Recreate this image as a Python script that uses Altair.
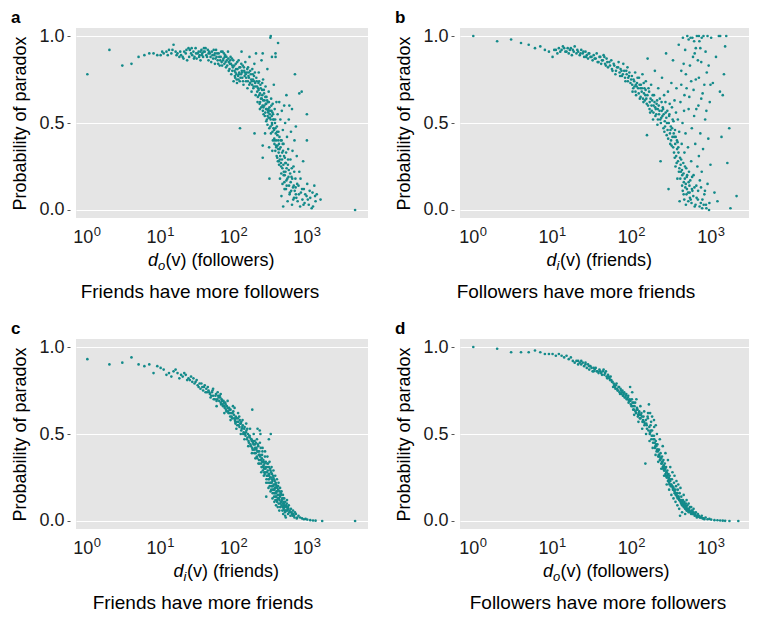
import altair as alt
import pandas as pd

# ---------------- data (degree, probability of paradox) ----------------
a_points = [
    (1, 0.78), (2, 0.92), (3, 0.83), (4, 0.84), (5, 0.88), (6, 0.89), (7, 0.90), (8, 0.90), (9, 0.89), (10, 0.89),
    (11, 0.90), (12, 0.91), (13, 0.92), (14, 0.90), (15, 0.95), (16, 0.91), (17, 0.90), (18, 0.88), (19, 0.89), (20, 0.88),
    (21, 0.91), (22, 0.90), (23, 0.86), (24, 0.93), (25, 0.92), (26, 0.90), (27, 0.89), (28, 0.91), (29, 0.88), (30, 0.93),
    (31, 0.87), (32, 0.90), (33, 0.91), (34, 0.89), (35, 0.86), (36, 0.92), (37, 0.90), (38, 0.88), (39, 0.93), (40, 0.91),
    (35, 0.91), (45, 0.90), (55, 0.90), (65, 0.86), (75, 0.88), (85, 0.85), (95, 0.80),
    (42, 0.89), (44, 0.92), (45, 0.86), (47, 0.90), (48, 0.88), (50, 0.91), (52, 0.87), (54, 0.89), (55, 0.84), (57, 0.92),
    (58, 0.88), (60, 0.86), (62, 0.90), (64, 0.83), (66, 0.88), (68, 0.85), (70, 0.91), (72, 0.87), (74, 0.84), (76, 0.89),
    (78, 0.82), (80, 0.86), (83, 0.91), (85, 0.80), (88, 0.84), (90, 0.88), (92, 0.78), (95, 0.83), (98, 0.86), (99, 0.74),
    (102, 0.80), (104, 0.76), (106, 0.84), (108, 0.78), (110, 0.73), (112, 0.81), (114, 0.77), (116, 0.86), (118, 0.79),
    (120, 0.74), (122, 0.82), (125, 0.78), (127, 0.91), (130, 0.76), (132, 0.83), (135, 0.72), (138, 0.80), (140, 0.77),
    (143, 0.85), (146, 0.74), (150, 0.79), (153, 0.70), (156, 0.82), (160, 0.76), (163, 0.88), (166, 0.73), (170, 0.78),
    (174, 0.68), (178, 0.81), (182, 0.75), (186, 0.71), (190, 0.84), (195, 0.73), (198, 0.66), (200, 0.90), (121, 0.47),
    (105, 0.79), (115, 0.75), (128, 0.80), (145, 0.78), (158, 0.77), (175, 0.74), (188, 0.77), (191, 0.44),
    (205, 0.74), (210, 0.62), (214, 0.70), (218, 0.79), (222, 0.66), (226, 0.58), (230, 0.72), (234, 0.64), (238, 0.86),
    (242, 0.69), (246, 0.60), (250, 0.75), (254, 0.55), (258, 0.67), (262, 0.63), (266, 0.44), (270, 0.71), (274, 0.58),
    (278, 0.65), (282, 0.52), (286, 0.81), (290, 0.62), (294, 0.56), (298, 0.68), (302, 0.36), (306, 0.59), (310, 0.53),
    (314, 0.99), (318, 1.00), (322, 0.64), (326, 0.57), (330, 0.50), (334, 0.34), (338, 0.61), (342, 0.55), (346, 0.47),
    (350, 0.72), (355, 0.41), (360, 0.58), (365, 0.52), (370, 0.88), (375, 0.37), (380, 0.62), (385, 0.48), (390, 0.30),
    (395, 0.55), (400, 0.96), (247, 0.37), (247, 0.30), (305, 0.18), (247, 0.90), (369, 0.90), (330, 0.88),
    (208, 0.68), (216, 0.73), (228, 0.62), (244, 0.66), (252, 0.59), (268, 0.56), (276, 0.61), (288, 0.54), (296, 0.58),
    (308, 0.55), (316, 0.48), (328, 0.54), (336, 0.45), (348, 0.52), (358, 0.40), (368, 0.47), (378, 0.36), (392, 0.43),
    (405, 0.45), (410, 0.28), (415, 0.62), (420, 0.35), (425, 0.18), (430, 0.52), (435, 0.40), (440, 0.25), (445, 0.08),
    (450, 0.57), (455, 0.33), (460, 0.15), (465, 0.46), (470, 0.02), (475, 0.38), (480, 0.22), (485, 0.60), (490, 0.12),
    (495, 0.30), (500, 0.50), (510, 0.27), (520, 0.17), (530, 0.42), (540, 0.05), (550, 0.35), (560, 0.23), (570, 0.60),
    (580, 0.10), (590, 0.29), (600, 0.45), (610, 0.19), (620, 0.03), (630, 0.34), (640, 0.13), (650, 0.25), (660, 0.07),
    (670, 0.40), (680, 0.78), (690, 0.18), (700, 0.09), (402, 0.35), (412, 0.38), (428, 0.31), (438, 0.27), (448, 0.40),
    (458, 0.24), (468, 0.34), (478, 0.20), (488, 0.16), (505, 0.22), (515, 0.33), (525, 0.14), (545, 0.26), (555, 0.19),
    (575, 0.09), (595, 0.16), (615, 0.24), (645, 0.06), (655, 0.14), (675, 0.11), (710, 0.07),
    (720, 0.31), (740, 0.05), (760, 0.14), (780, 0.22), (780, 0.67), (800, 0.02), (820, 0.10), (840, 0.68), (860, 0.06),
    (880, 0.28), (900, 0.12), (920, 0.04), (990, 0.55), (990, 0.40), (980, 0.08), (1000, 0.15), (1050, 0.03),
    (1100, 0.07), (1150, 0.01), (1180, 0.10), (1250, 0.14), (1300, 0.05), (1350, 0.09), (1520, 0.06), (4500, 0.00),
    (10.5, 0.91), (12.5, 0.89), (14.5, 0.92), (16.5, 0.89), (18.5, 0.91), (20.5, 0.87), (22.5, 0.92), (24.5, 0.88),
    (26.5, 0.93), (28.5, 0.87), (30.5, 0.90), (33.5, 0.88), (36.5, 0.89), (38.5, 0.91), (41, 0.93), (43, 0.88),
    (46, 0.91), (49, 0.85), (51, 0.89), (53, 0.92), (56, 0.87), (59, 0.90), (61, 0.84), (63, 0.88), (67, 0.91), (69, 0.83),
    (71, 0.86), (73, 0.90), (77, 0.85), (79, 0.88), (81, 0.83), (84, 0.87), (87, 0.81), (89, 0.86), (91, 0.84), (94, 0.87),
    (97, 0.82), (101, 0.83), (103, 0.77), (107, 0.81), (109, 0.75), (111, 0.85), (117, 0.78), (119, 0.82), (123, 0.76),
    (126, 0.84), (129, 0.79), (133, 0.74), (137, 0.82), (141, 0.79), (147, 0.76), (152, 0.81), (155, 0.74), (159, 0.79),
    (162, 0.72), (167, 0.80), (172, 0.75), (177, 0.72), (181, 0.78), (184, 0.70), (189, 0.74), (193, 0.79), (197, 0.71),
    (202, 0.76), (207, 0.71), (212, 0.65), (217, 0.69), (221, 0.74), (224, 0.61), (227, 0.67), (232, 0.70), (236, 0.59),
    (240, 0.64), (243, 0.73), (248, 0.57), (251, 0.63), (256, 0.69), (260, 0.60), (264, 0.54), (268, 0.65), (272, 0.61),
    (276, 0.51), (280, 0.58), (284, 0.63), (287, 0.49), (292, 0.57), (297, 0.53), (300, 0.62), (304, 0.47), (312, 0.57),
    (317, 0.52), (320, 0.44), (324, 0.60), (331, 0.49), (335, 0.56), (340, 0.40), (344, 0.52), (353, 0.46), (357, 0.38),
    (363, 0.50), (367, 0.34), (372, 0.44), (377, 0.40), (383, 0.31), (388, 0.45), (393, 0.37), (398, 0.28),
    (403, 0.40), (408, 0.33), (413, 0.26), (418, 0.42), (423, 0.29), (433, 0.36), (443, 0.21), (453, 0.29), (463, 0.38),
    (473, 0.26), (483, 0.31), (493, 0.20), (503, 0.27), (513, 0.12), (523, 0.24), (535, 0.18), (548, 0.29), (565, 0.14),
    (585, 0.21), (605, 0.11), (625, 0.18), (665, 0.22), (695, 0.13), (730, 0.15), (770, 0.09), (810, 0.18), (850, 0.12),
    (890, 0.03), (940, 0.09), (1020, 0.06), (1080, 0.11), (1200, 0.02), (1280, 0.08),
    (520, 0.66), (560, 0.52), (620, 0.58), (700, 0.48),
]

b_points = [
    (1, 1.00), (2, 0.97), (3, 0.98), (4, 0.96), (5, 0.95), (6, 0.93), (7, 0.94), (8, 0.92), (9, 0.91), (10, 0.88),
    (11, 0.92), (12, 0.93), (13, 0.92), (14, 0.93), (15, 0.91), (16, 0.90), (17, 0.93), (18, 0.92), (19, 0.94), (20, 0.90),
    (21, 0.91), (22, 0.89), (23, 0.92), (24, 0.90), (25, 0.88), (26, 0.91), (27, 0.89), (28, 0.87), (29, 0.90), (30, 0.88),
    (32, 0.86), (33, 0.89), (34, 0.87), (36, 0.90), (38, 0.85), (40, 0.88), (42, 0.86), (44, 0.89), (46, 0.84), (48, 0.87),
    (50, 0.82), (52, 0.85), (55, 0.86), (57, 0.80), (60, 0.83), (62, 0.78), (65, 0.82), (68, 0.85), (70, 0.79), (72, 0.81),
    (75, 0.77), (78, 0.84), (80, 0.80), (83, 0.74), (86, 0.78), (88, 0.82), (90, 0.76), (93, 0.79), (96, 0.73), (100, 0.77),
    (102, 0.68), (105, 0.75), (108, 0.71), (110, 0.79), (113, 0.66), (116, 0.73), (120, 0.70), (123, 0.76), (126, 0.64),
    (130, 0.72), (133, 0.68), (136, 0.78), (140, 0.62), (144, 0.70), (148, 0.66), (150, 0.74), (155, 0.43), (158, 0.87),
    (160, 0.60), (165, 0.68), (170, 0.56), (175, 0.72), (180, 0.63), (185, 0.52), (190, 0.66), (195, 0.80), (200, 0.58),
    (205, 0.61), (210, 0.49), (215, 0.70), (220, 0.55), (225, 0.64), (230, 0.28), (235, 0.53), (240, 0.76), (245, 0.59),
    (250, 0.47), (255, 0.66), (260, 0.51), (265, 0.62), (270, 0.90), (275, 0.43), (280, 0.57), (285, 0.68), (290, 0.12),
    (295, 0.54), (300, 0.61), (305, 0.38), (310, 0.48), (315, 0.73), (320, 0.59), (325, 0.42), (330, 0.86), (335, 0.51),
    (340, 0.33), (345, 0.63), (350, 0.46), (355, 0.25), (360, 0.56), (365, 0.70), (370, 0.40), (375, 0.18), (380, 0.52),
    (385, 0.36), (390, 0.95), (395, 0.45), (400, 0.05),
    (112, 0.72), (128, 0.70), (142, 0.67), (152, 0.64), (168, 0.62), (178, 0.57), (188, 0.60), (198, 0.54), (212, 0.58),
    (228, 0.52), (238, 0.57), (252, 0.55), (262, 0.48), (272, 0.53), (282, 0.46), (292, 0.50), (302, 0.44), (312, 0.40),
    (322, 0.47), (332, 0.36), (342, 0.42), (352, 0.38), (362, 0.31), (372, 0.35), (382, 0.28), (392, 0.22), (412, 0.26),
    (432, 0.20), (452, 0.16), (472, 0.13), (492, 0.19), (512, 0.10), (532, 0.14), (552, 0.06), (572, 0.12),
    (405, 0.30), (410, 0.62), (415, 0.22), (420, 0.80), (425, 0.38), (430, 0.14), (435, 0.50), (440, 0.99), (445, 0.27),
    (450, 0.09), (455, 0.57), (460, 0.33), (465, 0.18), (470, 0.92), (475, 0.44), (480, 0.03), (485, 0.24), (490, 0.70),
    (495, 0.12), (500, 1.00), (510, 0.36), (520, 0.16), (530, 0.65), (540, 0.07), (550, 0.99), (560, 0.28), (570, 0.47),
    (580, 0.11), (590, 0.88), (600, 0.20), (610, 0.54), (620, 0.02), (630, 0.38), (640, 0.75), (650, 0.14), (660, 1.00),
    (670, 0.25), (680, 0.06), (690, 0.60), (700, 0.31), (710, 0.97), (720, 0.17), (730, 0.44), (740, 0.04), (750, 0.85),
    (760, 0.22), (770, 0.01), (780, 0.67), (790, 0.35), (800, 1.00), (820, 0.09), (840, 0.52), (860, 0.03), (880, 0.79),
    (900, 0.15), (920, 0.41), (940, 0.00), (960, 0.62), (980, 0.26), (1000, 0.99),
    (520, 0.98), (580, 0.99), (610, 0.97), (640, 0.93), (700, 1.00), (760, 0.99), (900, 1.00), (1300, 1.00),
    (1050, 0.73), (1100, 0.10), (1150, 0.88), (1200, 0.05), (1250, 1.00), (1290, 0.68), (1350, 0.42), (1400, 0.66),
    (1450, 0.78), (1500, 0.94), (1550, 1.00), (1600, 0.27), (1690, 0.47), (1750, 0.01), (2090, 0.08),
    (10.5, 0.92), (11.5, 0.90), (12.5, 0.91), (13.5, 0.94), (14.5, 0.91), (15.5, 0.93), (16.5, 0.92), (17.5, 0.89),
    (18.5, 0.91), (20.5, 0.92), (22.5, 0.90), (24.5, 0.91), (26.5, 0.88), (28.5, 0.90), (31, 0.88), (35, 0.87), (37, 0.85),
    (39, 0.88), (41, 0.84), (43, 0.86), (45, 0.88), (47, 0.83), (49, 0.85), (53, 0.83), (56, 0.81), (59, 0.84), (63, 0.80),
    (67, 0.82), (71, 0.77), (74, 0.80), (77, 0.78), (82, 0.76), (85, 0.80), (89, 0.74), (92, 0.77), (98, 0.75),
    (101, 0.72), (104, 0.70), (107, 0.74), (111, 0.68), (115, 0.71), (118, 0.76), (122, 0.67), (125, 0.72), (129, 0.65),
    (134, 0.70), (138, 0.64), (141, 0.73), (146, 0.63), (149, 0.69), (154, 0.61), (157, 0.66), (162, 0.70), (167, 0.58),
    (172, 0.64), (177, 0.60), (183, 0.66), (187, 0.56), (193, 0.62), (197, 0.59), (203, 0.55), (208, 0.63), (213, 0.52),
    (218, 0.60), (223, 0.57), (232, 0.50), (237, 0.62), (243, 0.54), (248, 0.58), (257, 0.45), (267, 0.56), (277, 0.50),
    (287, 0.41), (297, 0.55), (307, 0.46), (317, 0.37), (327, 0.52), (337, 0.44), (347, 0.30), (357, 0.42), (367, 0.27),
    (377, 0.39), (387, 0.33), (397, 0.24),
    (408, 0.18), (418, 0.29), (428, 0.23), (438, 0.11), (448, 0.21), (458, 0.06), (468, 0.25), (478, 0.15), (488, 0.09),
    (498, 0.20), (515, 0.05), (525, 0.22), (535, 0.10), (545, 0.17), (565, 0.04), (575, 0.19), (595, 0.08), (615, 0.13),
    (635, 0.03), (655, 0.07), (685, 0.11), (715, 0.02), (745, 0.13), (775, 0.06), (805, 0.03), (835, 0.11), (870, 0.01),
    (950, 0.04), (420, 0.72), (460, 0.66), (520, 0.58), (560, 0.74), (600, 0.69), (650, 0.58), (700, 0.76), (750, 0.64),
    (820, 0.72), (870, 0.57), (930, 0.83), (980, 0.72), (450, 0.84), (480, 0.78), (540, 0.83), (620, 0.90), (680, 0.86),
    (730, 0.93), (850, 0.91),
]

c_points = [
    (1, 0.93), (2, 0.90), (3, 0.91), (4, 0.94), (5, 0.90), (6, 0.89), (7, 0.90), (8, 0.85), (9, 0.89), (10, 0.88),
    (11, 0.87), (12, 0.84), (13, 0.85), (14, 0.83), (15, 0.86), (16, 0.87), (17, 0.85), (18, 0.82), (19, 0.84), (20, 0.83),
    (22, 0.84), (24, 0.82), (25, 0.81), (27, 0.80), (28, 0.82), (30, 0.80), (32, 0.78), (34, 0.79), (35, 0.76), (37, 0.77),
    (38, 0.75), (40, 0.78), (42, 0.76), (43, 0.74), (45, 0.75), (47, 0.73), (48, 0.71), (50, 0.74), (52, 0.72), (55, 0.70),
    (57, 0.73), (58, 0.69), (60, 0.74), (62, 0.71), (64, 0.72), (66, 0.68), (68, 0.70), (70, 0.67), (72, 0.69), (74, 0.66),
    (76, 0.68), (78, 0.64), (80, 0.66), (83, 0.63), (86, 0.65), (88, 0.62), (90, 0.64), (93, 0.60), (96, 0.62), (100, 0.61),
    (103, 0.58), (106, 0.60), (110, 0.57), (113, 0.59), (116, 0.55), (120, 0.58), (124, 0.56), (128, 0.53), (132, 0.55),
    (136, 0.51), (140, 0.54), (144, 0.49), (148, 0.52), (150, 0.47), (155, 0.50), (160, 0.45), (165, 0.48), (170, 0.43),
    (175, 0.46), (178, 0.64), (180, 0.41), (185, 0.44), (190, 0.39), (195, 0.42), (200, 0.45), (205, 0.37), (210, 0.40),
    (215, 0.43), (220, 0.35), (225, 0.38), (230, 0.50), (235, 0.33), (240, 0.36), (245, 0.40), (250, 0.31), (255, 0.34),
    (260, 0.28), (265, 0.37), (270, 0.30), (276, 0.14), (280, 0.26), (285, 0.33), (290, 0.29), (295, 0.24), (300, 0.31),
    (305, 0.27), (310, 0.22), (315, 0.29), (320, 0.25), (325, 0.20), (330, 0.27), (335, 0.23), (340, 0.18), (345, 0.25),
    (350, 0.21), (355, 0.16), (360, 0.23), (365, 0.19), (370, 0.14), (375, 0.21), (380, 0.17), (385, 0.12), (390, 0.19),
    (395, 0.15), (400, 0.20), (410, 0.13), (420, 0.17), (430, 0.10), (440, 0.15), (450, 0.12), (460, 0.08), (470, 0.13),
    (480, 0.10), (490, 0.06), (500, 0.11), (510, 0.02), (520, 0.08), (530, 0.12), (540, 0.07), (560, 0.09), (580, 0.05),
    (600, 0.07), (620, 0.04), (640, 0.06), (660, 0.03), (680, 0.05), (700, 0.04), (730, 0.02), (760, 0.03), (800, 0.02),
    (850, 0.015), (900, 0.01), (950, 0.012), (1000, 0.008), (1100, 0.005), (1200, 0.003), (1300, 0.002), (1600, 0.00),
    (4500, 0.00), (318, 0.50), (300, 0.47), (210, 0.53), (225, 0.52),
    (105, 0.56), (118, 0.60), (126, 0.57), (142, 0.50), (152, 0.53), (162, 0.49), (172, 0.47), (182, 0.45), (192, 0.46),
    (202, 0.41), (212, 0.44), (222, 0.40), (232, 0.42), (242, 0.38), (252, 0.35), (262, 0.33), (272, 0.34), (282, 0.31),
    (292, 0.33), (302, 0.26), (312, 0.30), (322, 0.28), (332, 0.24), (342, 0.26), (352, 0.24), (362, 0.21), (372, 0.22),
    (382, 0.20), (392, 0.17), (402, 0.18), (415, 0.15), (425, 0.14), (435, 0.16), (445, 0.11), (455, 0.13), (465, 0.10),
    (475, 0.11), (485, 0.09), (495, 0.08), (515, 0.09), (535, 0.06), (555, 0.07), (575, 0.06), (610, 0.05), (650, 0.04),
    (21, 0.85), (23, 0.81), (26, 0.83), (29, 0.79), (31, 0.81), (33, 0.77), (36, 0.79), (39, 0.77), (41, 0.74), (44, 0.77),
    (46, 0.74), (49, 0.72), (51, 0.75), (53, 0.70), (56, 0.72), (59, 0.70), (61, 0.72), (63, 0.69), (65, 0.71), (67, 0.67),
    (69, 0.69), (71, 0.66), (73, 0.68), (75, 0.65), (77, 0.67), (79, 0.63), (82, 0.65), (84, 0.62), (87, 0.64), (89, 0.60),
    (92, 0.62), (95, 0.59), (98, 0.63), (101, 0.59), (104, 0.57), (108, 0.59), (111, 0.55), (115, 0.57), (119, 0.54),
    (122, 0.56), (126, 0.52), (130, 0.54), (134, 0.50), (138, 0.53), (146, 0.51), (153, 0.48), (158, 0.46), (163, 0.49),
    (168, 0.44), (173, 0.47), (178, 0.42), (183, 0.46), (188, 0.41), (193, 0.44), (198, 0.39), (203, 0.42), (208, 0.36),
    (213, 0.40), (218, 0.38), (223, 0.33), (228, 0.37), (233, 0.35), (238, 0.31), (243, 0.34), (248, 0.29), (253, 0.32),
    (258, 0.30), (263, 0.27), (268, 0.31), (273, 0.28), (278, 0.24), (283, 0.28), (288, 0.26), (293, 0.22), (298, 0.27),
    (303, 0.24), (308, 0.20), (313, 0.25), (318, 0.22), (323, 0.18), (328, 0.22), (333, 0.20), (338, 0.16), (343, 0.20),
    (348, 0.18), (353, 0.14), (358, 0.18), (363, 0.16), (368, 0.12), (373, 0.16), (378, 0.14), (388, 0.11), (398, 0.13),
    (408, 0.10), (418, 0.12), (428, 0.08), (438, 0.11), (448, 0.09), (458, 0.06), (468, 0.08), (478, 0.07), (498, 0.05),
    (518, 0.06), (548, 0.04), (568, 0.05), (590, 0.03), (630, 0.03), (670, 0.02), (720, 0.015),
    (102, 0.65), (108, 0.53), (114, 0.62), (124, 0.50), (131, 0.58), (139, 0.47), (147, 0.56), (157, 0.43), (166, 0.53),
    (176, 0.39), (186, 0.50), (196, 0.36), (206, 0.47), (216, 0.33), (226, 0.45), (236, 0.28), (246, 0.42), (256, 0.26),
    (266, 0.40), (276, 0.22), (286, 0.37), (296, 0.19), (306, 0.34), (316, 0.17), (326, 0.31), (336, 0.13), (346, 0.29),
    (356, 0.11), (366, 0.26), (376, 0.09), (386, 0.24), (396, 0.08), (406, 0.22), (416, 0.06), (426, 0.19), (446, 0.17),
    (466, 0.15), (486, 0.13), (506, 0.06), (526, 0.10), (546, 0.08), (500, 0.03), (470, 0.04),
    (52, 0.76), (58, 0.66), (66, 0.73), (74, 0.62), (82, 0.69), (90, 0.58), (97, 0.66),
]

d_points = [
    (1, 1.00), (2, 0.99), (3, 0.97), (4, 0.97), (5, 0.97), (6, 0.98), (7, 0.97), (8, 0.96), (9, 0.96), (10, 0.96),
    (11, 0.95), (12, 0.96), (13, 0.95), (14, 0.94), (15, 0.95), (16, 0.93), (17, 0.94), (18, 0.92), (19, 0.91), (20, 0.92),
    (21, 0.90), (22, 0.91), (23, 0.92), (24, 0.91), (25, 0.89), (26, 0.90), (27, 0.88), (28, 0.90), (29, 0.87), (30, 0.89),
    (32, 0.86), (33, 0.88), (34, 0.87), (36, 0.86), (38, 0.85), (40, 0.86), (42, 0.84), (44, 0.87), (46, 0.85), (48, 0.83),
    (50, 0.84), (52, 0.82), (54, 0.83), (55, 0.81), (57, 0.80), (58, 0.77), (60, 0.78), (62, 0.76), (64, 0.79), (66, 0.75),
    (68, 0.77), (70, 0.74), (72, 0.76), (74, 0.73), (76, 0.75), (78, 0.72), (80, 0.74), (83, 0.71), (85, 0.73), (88, 0.70),
    (90, 0.72), (92, 0.69), (95, 0.77), (97, 0.67), (100, 0.70), (103, 0.66), (106, 0.64), (110, 0.68), (113, 0.62),
    (116, 0.65), (120, 0.61), (124, 0.63), (128, 0.59), (132, 0.62), (136, 0.57), (140, 0.60), (144, 0.55), (148, 0.33),
    (150, 0.58), (155, 0.53), (160, 0.62), (164, 0.67), (168, 0.50), (172, 0.55), (176, 0.47), (180, 0.52), (185, 0.45),
    (190, 0.49), (195, 0.42), (200, 0.46), (205, 0.40), (210, 0.44), (215, 0.37), (220, 0.41), (225, 0.35), (230, 0.39),
    (235, 0.33), (240, 0.37), (245, 0.31), (250, 0.35), (255, 0.29), (260, 0.33), (265, 0.27), (270, 0.31), (275, 0.25),
    (280, 0.29), (285, 0.23), (290, 0.27), (295, 0.22), (300, 0.26), (310, 0.20), (320, 0.24), (330, 0.18), (340, 0.22),
    (350, 0.16), (360, 0.20), (370, 0.14), (380, 0.18), (390, 0.13), (400, 0.16), (405, 0.03), (410, 0.11), (420, 0.14),
    (430, 0.09), (440, 0.12), (450, 0.08), (460, 0.11), (470, 0.07), (480, 0.10), (490, 0.06), (500, 0.09), (520, 0.05),
    (540, 0.08), (560, 0.04), (580, 0.06), (600, 0.05), (620, 0.03), (640, 0.05), (660, 0.02), (680, 0.04), (700, 0.03),
    (730, 0.02), (760, 0.03), (800, 0.015), (850, 0.02), (900, 0.01), (950, 0.012), (1000, 0.008), (1100, 0.005),
    (1200, 0.004), (1300, 0.003), (1400, 0.002), (1500, 0.001), (1700, 0.00), (2200, 0.00),
    (105, 0.68), (118, 0.64), (126, 0.61), (134, 0.60), (142, 0.57), (152, 0.56), (158, 0.60), (166, 0.54), (174, 0.52),
    (182, 0.49), (192, 0.47), (202, 0.44), (212, 0.41), (222, 0.38), (232, 0.36), (242, 0.34), (252, 0.32), (262, 0.30),
    (272, 0.28), (282, 0.27), (292, 0.25), (305, 0.23), (315, 0.21), (325, 0.20), (335, 0.19), (345, 0.17), (355, 0.18),
    (365, 0.15), (375, 0.16), (385, 0.14), (395, 0.12), (415, 0.12), (425, 0.10), (435, 0.11), (445, 0.09), (455, 0.10),
    (475, 0.08), (495, 0.07), (510, 0.07), (530, 0.06), (550, 0.05), (570, 0.05), (590, 0.04), (650, 0.03), (720, 0.02),
    (21, 0.92), (23, 0.90), (26, 0.91), (29, 0.89), (31, 0.88), (33, 0.86), (35, 0.88), (37, 0.86), (39, 0.87), (41, 0.85),
    (43, 0.86), (45, 0.84), (47, 0.86), (49, 0.82), (51, 0.83), (53, 0.81), (56, 0.80), (59, 0.79), (61, 0.77), (63, 0.78),
    (65, 0.76), (67, 0.75), (69, 0.77), (71, 0.73), (73, 0.75), (75, 0.74), (77, 0.72), (79, 0.73), (81, 0.71), (84, 0.72),
    (86, 0.70), (89, 0.71), (91, 0.68), (94, 0.70), (96, 0.69), (99, 0.66), (102, 0.68), (104, 0.64), (108, 0.66),
    (111, 0.63), (115, 0.64), (119, 0.60), (122, 0.62), (126, 0.59), (130, 0.61), (138, 0.58), (146, 0.56), (154, 0.55),
    (162, 0.52), (170, 0.51), (178, 0.49), (186, 0.47), (194, 0.45), (198, 0.43), (203, 0.43), (208, 0.41), (213, 0.40),
    (218, 0.38), (223, 0.37), (228, 0.35), (233, 0.36), (238, 0.33), (243, 0.34), (248, 0.30), (253, 0.31), (258, 0.29),
    (263, 0.30), (268, 0.26), (273, 0.28), (278, 0.25), (283, 0.26), (288, 0.23), (293, 0.24), (298, 0.21), (303, 0.24),
    (308, 0.21), (318, 0.20), (328, 0.19), (338, 0.18), (348, 0.16), (358, 0.15), (368, 0.16), (378, 0.13), (388, 0.14),
    (398, 0.12), (408, 0.12), (418, 0.10), (428, 0.11), (438, 0.09), (448, 0.10), (458, 0.08), (468, 0.09), (478, 0.07),
    (488, 0.08), (505, 0.06), (525, 0.07), (545, 0.05), (565, 0.06), (585, 0.04), (610, 0.04), (630, 0.04), (670, 0.03),
    (690, 0.025), (750, 0.02), (780, 0.015), (820, 0.01),
    (101, 0.74), (107, 0.61), (114, 0.70), (121, 0.57), (128, 0.66), (135, 0.53), (143, 0.63), (151, 0.50), (159, 0.59),
    (167, 0.46), (175, 0.57), (183, 0.42), (191, 0.54), (199, 0.38), (207, 0.50), (215, 0.34), (225, 0.47), (235, 0.30),
    (245, 0.43), (255, 0.26), (265, 0.39), (275, 0.21), (285, 0.35), (295, 0.18), (305, 0.31), (315, 0.15), (325, 0.28),
    (335, 0.13), (345, 0.26), (355, 0.11), (365, 0.23), (375, 0.09), (385, 0.21), (395, 0.07), (410, 0.19), (430, 0.05),
    (450, 0.15), (470, 0.04), (490, 0.12), (520, 0.10), (560, 0.08), (600, 0.07),
    (170, 0.62), (180, 0.60), (190, 0.58), (200, 0.55),
]

captions = {
    "a": "Friends have more followers",
    "b": "Followers have more friends",
    "c": "Friends have more friends",
    "d": "Followers have more followers",
}
x_units = {"a": "(v) (followers)", "b": "(v) (friends)", "c": "(v) (friends)", "d": "(v) (followers)"}
x_subs = {"a": "o", "b": "i", "c": "i", "d": "o"}
powers = [1, 10, 100, 1000]
exponents = ["0", "1", "2", "3"]

# ---------------- styling ----------------
FONT = "Liberation Sans"
TEAL = "#138a8a"
BG = "#e5e5e5"
H = 190
ONE = pd.DataFrame({"k": [0]})
MAJOR = "indexof([1, 10, 100, 1000], datum.value) >= 0"


def txt(s, x, y, size=18, style="normal", weight="normal", align="left"):
    return alt.Chart(ONE).mark_text(
        text=s, align=align, baseline="alphabetic", fontSize=size, font=FONT,
        fontStyle=style, fontWeight=weight, color="black"
    ).encode(x=alt.value(x), y=alt.value(y))


def panel(key, points, domain, W, title_cx, cap_cx):
    df = pd.DataFrame(points, columns=["deg", "prob"])
    xscale = alt.Scale(type="log", domain=domain, nice=False)
    yscale = alt.Scale(domain=[-0.046, 1.046], nice=False, zero=False)
    ticks = [m * 10 ** k for k in range(0, 4) for m in range(1, 10) if domain[0] <= m * 10 ** k <= domain[1]]

    pts = alt.Chart(df).mark_circle(size=7, color=TEAL, opacity=1).encode(
        x=alt.X("deg:Q", scale=xscale, axis=alt.Axis(
            values=ticks, labels=False, title=None, domain=False, offset=1,
            grid=True, gridColor="white", gridWidth=1,
            gridOpacity={"condition": {"test": MAJOR, "value": 1}, "value": 0},
            tickSize={"condition": {"test": MAJOR, "value": 3.5}, "value": 2},
            tickColor="#555", tickWidth=0.9)),
        y=alt.Y("prob:Q", scale=yscale, axis=alt.Axis(
            values=[0, 0.5, 1.0], format=".1f", title="Probability of paradox",
            domain=False, offset=6, tickSize=3, tickColor="#555", labelPadding=3,
            minExtent=37, maxExtent=37, titlePadding=4, titleFontSize=18,
            grid=True, gridColor="white", gridWidth=1)),
    ).properties(width=W, height=H)

    tdf = pd.DataFrame({"val": powers, "exp": exponents})
    lbl_base = alt.Chart(tdf).encode(x=alt.X("val:Q", scale=xscale, axis=None), y=alt.value(H + 25))
    lbl10 = lbl_base.mark_text(text="10", align="right", dx=6, baseline="alphabetic",
                               fontSize=18, font=FONT, color="#1a1a1a")
    lblexp = lbl_base.mark_text(align="left", dx=6.5, dy=-7, baseline="alphabetic",
                                fontSize=13, font=FONT, color="#1a1a1a").encode(text="exp:N")

    sub = x_subs[key]
    unit = x_units[key]
    sub_w = 7.2 if sub == "o" else 3.2
    unit_w = 109 if "followers" in unit else 92
    total = 10 + sub_w + unit_w
    x0 = title_cx - total / 2
    t1 = txt("d", x0, H + 48, style="italic")
    t2 = txt(sub, x0 + 10, H + 52, size=13, style="italic")
    t3 = txt(unit, x0 + 10 + sub_w + 0.5, H + 48)
    cap = txt(captions[key], cap_cx, H + 80, size=19, align="center")
    letter = txt(key, -65, -5, size=17, weight="bold")

    return alt.layer(pts, lbl10, lblexp, t1, t2, t3, cap, letter)


pa = panel("a", a_points, [0.70, 6750], 292, 135, 124)
pb = panel("b", b_points, [0.68, 3000], 289, 139, 116)
pc = panel("c", c_points, [0.70, 6750], 292, 150, 127)
pdd = panel("d", d_points, [0.68, 3000], 289, 146, 138)

chart = alt.vconcat(
    alt.hconcat(pa, pb, spacing=27),
    alt.hconcat(pc, pdd, spacing=27),
    spacing=18,
).properties(
    padding={"top": 1, "left": 3, "right": 0, "bottom": 0}
).configure_view(
    fill=BG, stroke=None
).configure_axis(
    labelFont=FONT, titleFont=FONT, labelFontSize=18, titleFontSize=18,
    titleFontWeight="normal", labelColor="#1a1a1a", titleColor="black"
)

chart.save("out.html", embed_options={"renderer": "svg", "actions": False})
